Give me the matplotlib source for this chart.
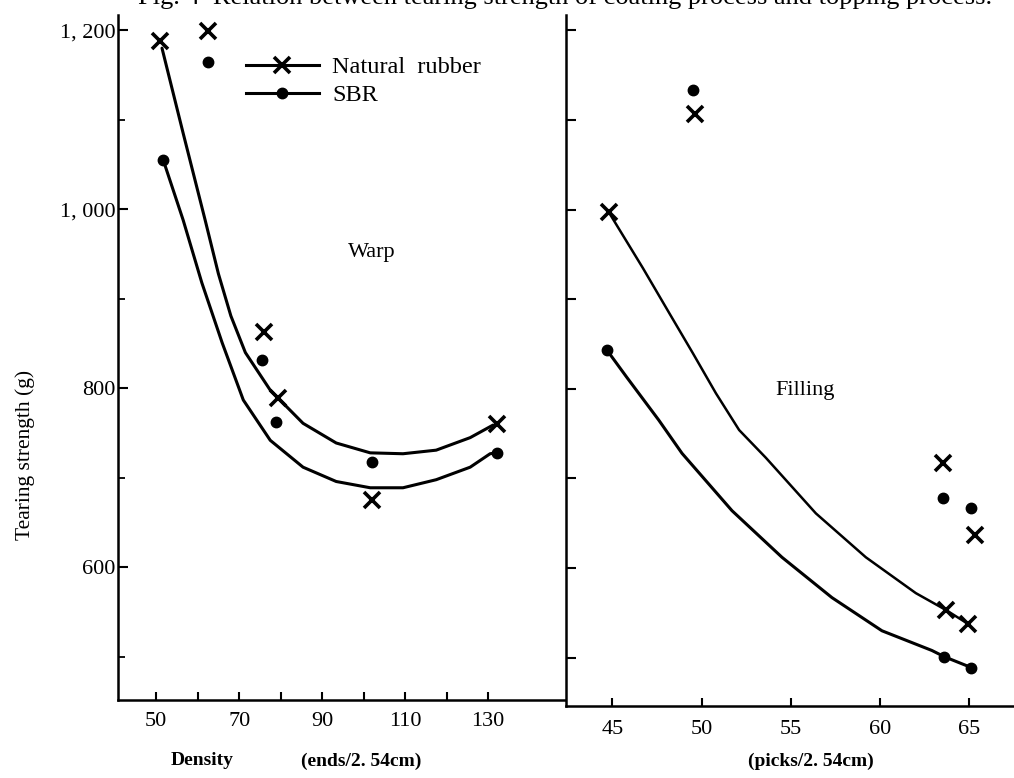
import matplotlib
matplotlib.use("Agg")
import matplotlib.pyplot as plt
from matplotlib.lines import Line2D

plt.rcParams['font.family'] = ['Liberation Serif', 'DejaVu Serif']

# measured points, warp (left panel)
warp_nr_x = [51.0, 62.5, 76.0, 79.4, 102.0, 132.2]
warp_nr_y = [1188, 1199, 863, 789, 675, 760]
warp_sbr_x = [51.7, 62.5, 75.5, 78.9, 102.0, 132.2]
warp_sbr_y = [1055, 1164, 832, 763, 718, 728]

# measured points, filling (right panel)
fill_nr_x = [44.8, 49.6, 63.5, 63.7, 64.9, 65.3]
fill_nr_y = [997, 1107, 717, 553, 538, 637]
fill_sbr_x = [44.7, 49.5, 63.5, 63.6, 65.1, 65.1]
fill_sbr_y = [843, 1133, 678, 501, 667, 489]

# fitted curves
warp_nr_cx = [51.4, 56.5, 61.8, 65.0, 68.0, 71.5, 77.5, 85.4, 93.4, 101.6, 109.5, 117.5, 125.7, 131.2]
warp_nr_cy = [1180, 1085, 988, 928, 881, 840, 798, 761, 739, 728, 727, 731, 745, 759]
warp_sbr_cx = [51.7, 56.5, 61.0, 65.9, 71.0, 77.5, 85.4, 93.4, 101.6, 109.5, 117.5, 125.7, 130.5, 131.9]
warp_sbr_cy = [1055, 988, 918, 851, 787, 742, 712, 696, 689, 689, 698, 712, 727, 728]
fill_nr_cx = [44.8, 46.7, 48.2, 49.5, 50.8, 52.1, 53.6, 56.4, 59.2, 62.0, 63.7, 64.9]
fill_nr_cy = [997, 935, 884, 840, 795, 754, 723, 661, 612, 572, 553, 538]
fill_sbr_cx = [44.7, 45.8, 47.6, 48.9, 51.7, 54.5, 57.3, 60.1, 62.9, 63.6, 65.1]
fill_sbr_cy = [843, 813, 765, 728, 664, 612, 567, 530, 508, 501, 489]

fig = plt.figure(figsize=(10.14, 7.78), dpi=100)
ax1 = fig.add_axes([0.1164, 0.1003, 0.4418, 0.8804])
ax2 = fig.add_axes([0.5582, 0.0925, 0.4418, 0.888])
ax1.set_ylim(452, 1217)
ax2.set_ylim(446, 1217)

lw = 2.2
for ax in (ax1, ax2):
    for s in ('top', 'right'):
        ax.spines[s].set_visible(False)
    for s in ('left', 'bottom'):
        ax.spines[s].set_linewidth(1.8)
    ax.tick_params(direction='in', width=1.5, length=7, labelsize=16)
    ax.tick_params(which='minor', direction='in', width=1.3, length=5)

# left panel
ax1.plot(warp_nr_cx, warp_nr_cy, color='black', lw=lw, solid_capstyle='round')
ax1.plot(warp_sbr_cx, warp_sbr_cy, color='black', lw=lw, solid_capstyle='round')
ax1.plot(warp_nr_x, warp_nr_y, 'x', color='black', ms=11, mew=2.6)
ax1.plot(warp_sbr_x, warp_sbr_y, 'o', color='black', ms=7.5)
ax1.set_xlim(40.8, 148.8)
ax1.set_xticks(range(50, 131, 10))
ax1.set_xticklabels(['50', '', '70', '', '90', '', '110', '', '130'])
ax1.tick_params(axis='x', length=6, pad=9)
ax1.set_yticks([600, 800, 1000, 1200])
ax1.set_yticklabels(['600', '800', '1, 000', '1, 200'])
ax1.set_yticks([500, 700, 900, 1100], minor=True)
ax1.tick_params(axis='y', pad=2)
ax1.text(102, 952, 'Warp', fontsize=16, ha='center', va='center')

handles = [Line2D([], [], color='black', lw=lw, marker='x', ms=11, mew=2.6),
           Line2D([], [], color='black', lw=lw, marker='o', ms=7.5)]
ax1.legend(handles, ['Natural  rubber', 'SBR'], loc='upper left',
           bbox_to_anchor=(0.285, 0.94), frameon=False, fontsize=17.5,
           handlelength=3.0, handletextpad=0.55, labelspacing=0.25,
           borderpad=0, borderaxespad=0)

# right panel
ax2.plot(fill_nr_cx, fill_nr_cy, color='black', lw=1.8, solid_capstyle='round')
ax2.plot(fill_sbr_cx, fill_sbr_cy, color='black', lw=lw, solid_capstyle='round')
ax2.plot(fill_nr_x, fill_nr_y, 'x', color='black', ms=11, mew=2.6)
ax2.plot(fill_sbr_x, fill_sbr_y, 'o', color='black', ms=7.5)
ax2.set_xlim(42.4, 67.5)
ax2.set_xticks([45, 50, 55, 60, 65])
ax2.tick_params(axis='x', length=6, pad=10)
ax2.set_yticks(range(500, 1201, 100))
ax2.set_yticklabels([])
ax2.text(55.8, 798, 'Filling', fontsize=16, ha='center', va='center')

# axis titles
fig.text(0.025, 0.415, 'Tearing strength (g)', rotation=90, fontsize=15.5,
         ha='center', va='center')
fig.text(0.199, 0.022, 'Density', fontsize=14, fontweight='bold', ha='center', va='center')
fig.text(0.356, 0.022, '(ends/2. 54cm)', fontsize=14, fontweight='bold', ha='center', va='center')
fig.text(0.80, 0.022, '(picks/2. 54cm)', fontsize=14, fontweight='bold', ha='center', va='center')

# title cut off by the scan edge
fig.text(0.557, 1.003, 'Fig. 4  Relation between tearing strength of coating process and topping process.',
         fontsize=19, ha='center', va='center')

fig.savefig('out.png', dpi=100)
